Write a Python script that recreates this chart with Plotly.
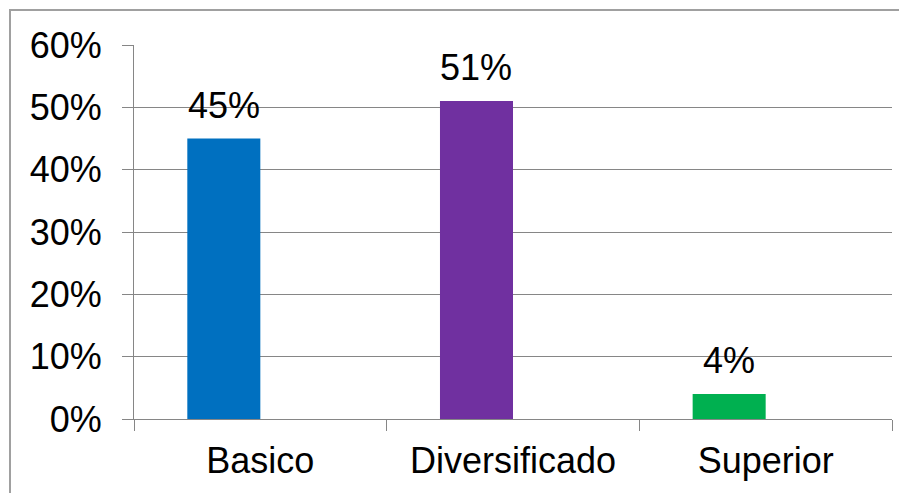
import plotly.graph_objects as go

categories = ["Basico", "Diversificado", "Superior"]
values = [0.45, 0.51, 0.04]
bar_colors = ["#0070C0", "#7030A0", "#00B050"]
y_ticks = [0, 0.1, 0.2, 0.3, 0.4, 0.5, 0.6]
y_tick_labels = ["0%", "10%", "20%", "30%", "40%", "50%", "60%"]

FONT = "Liberation Sans, Arial, sans-serif"
BAR_W = 0.289
BAR_OFF = -0.289

# page body adds an 8px offset; figure geometry compensates for it
W, H = 899, 485
ML, MR, MT, MB = 126, 15, 37, 74
PW = W - ML - MR
PH = H - MT - MB

fig = go.Figure()
fig.add_trace(go.Bar(
    x=categories, y=values,
    marker=dict(color=bar_colors, line=dict(width=0)),
    width=[BAR_W] * len(categories),
    offset=[BAR_OFF] * len(categories),
    hoverinfo="skip",
))

annotations = []
for i, v in enumerate(values):
    annotations.append(dict(
        x=i + BAR_OFF + BAR_W / 2, y=v, xref="x", yref="y",
        text=f"{round(v * 100)}%", showarrow=False,
        yanchor="bottom", xanchor="center", yshift=11,
        font=dict(family=FONT, size=36, color="#000000"),
    ))

fig.update_layout(
    width=W, height=H,
    margin=dict(l=ML, r=MR, t=MT, b=MB),
    paper_bgcolor="white", plot_bgcolor="white",
    showlegend=False,
    font=dict(family=FONT, size=36, color="#000000"),
    annotations=annotations,
    shapes=[dict(
        type="rect", xref="paper", yref="paper",
        x0=(2 - ML) / PW, x1=1.1, y0=-0.3, y1=(MT + PH - 2) / PH,
        line=dict(color="#A0A0A0", width=2), fillcolor="rgba(0,0,0,0)", layer="below",
    )],
    xaxis=dict(
        type="category", tickson="boundaries", ticks="outside", ticklen=11,
        tickcolor="#868686", tickwidth=1,
        showline=True, linecolor="#868686", linewidth=1,
        showgrid=False, range=[-0.5, 2.5],
        tickfont=dict(family=FONT, size=36, color="#000000"),
        ticklabelstandoff=10,
    ),
    yaxis=dict(
        range=[0, 0.6], tickvals=y_ticks, ticktext=y_tick_labels,
        ticks="outside", ticklen=11, tickcolor="#868686", tickwidth=1,
        showline=True, linecolor="#868686", linewidth=1,
        showgrid=True, gridcolor="#868686", gridwidth=1,
        zeroline=False,
        tickfont=dict(family=FONT, size=36, color="#000000"),
        ticklabelstandoff=13,
    ),
)

fig.write_html("out.html")
